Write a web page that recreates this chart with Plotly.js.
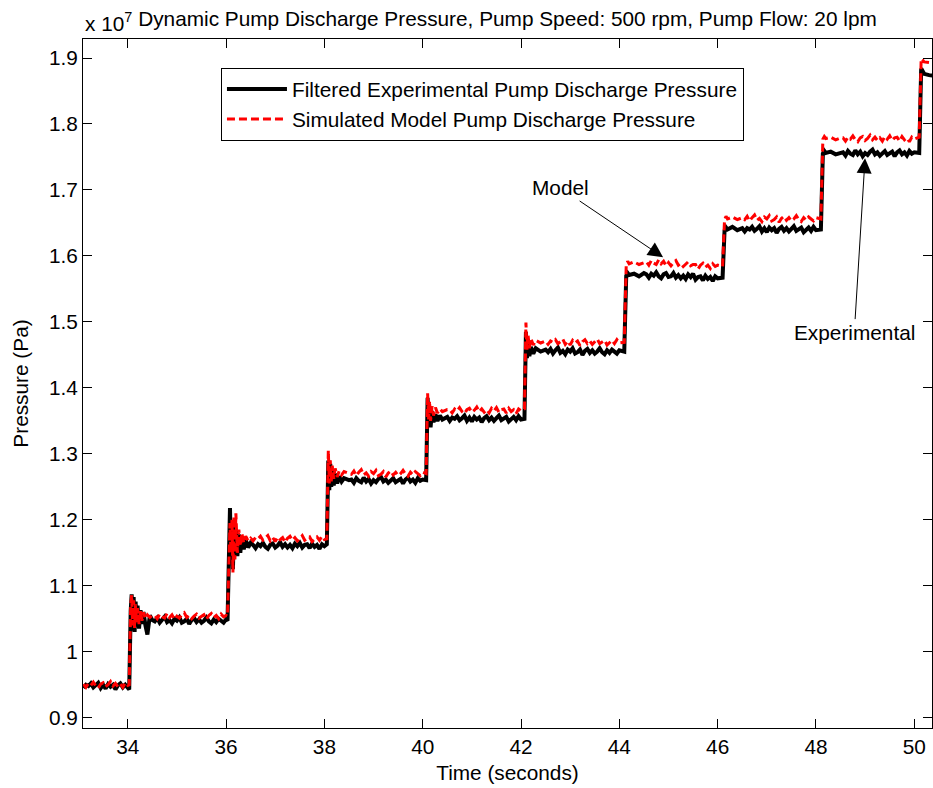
<!DOCTYPE html>
<html>
<head>
<meta charset="utf-8">
<script src="https://cdn.plot.ly/plotly-3.0.1.min.js"></script>
<style>html,body{margin:0;padding:0;background:#fff;}#chart{width:933px;height:788px;}</style>
</head>
<body>
<div id="chart"></div>
<script>
// Time in seconds
const timeSec = [
  33.10, 33.15, 33.20, 33.25, 33.30, 33.35, 33.40, 33.45, 33.50, 33.55,
  33.60, 33.65, 33.70, 33.75, 33.80, 33.85, 33.90, 33.95, 34.00, 34.03,
  34.06, 34.08, 34.10, 34.12, 34.14, 34.16, 34.18, 34.20, 34.23, 34.26, 34.29, 34.32, 34.36, 34.40, 34.45, 34.50,
  34.55, 34.60, 34.65, 34.70, 34.75, 34.80, 34.85, 34.90, 34.95, 35.00,
  35.05, 35.10, 35.15, 35.20, 35.25, 35.30, 35.35, 35.40, 35.45, 35.50,
  35.55, 35.60, 35.65, 35.70, 35.75, 35.80, 35.85, 35.90, 35.95, 36.00, 36.03,
  36.06, 36.08, 36.10, 36.12, 36.14, 36.16, 36.18, 36.20, 36.23, 36.26, 36.29, 36.32, 36.36, 36.40, 36.45, 36.50,
  36.55, 36.60, 36.65, 36.70, 36.75, 36.80, 36.85, 36.90, 36.95, 37.00,
  37.05, 37.10, 37.15, 37.20, 37.25, 37.30, 37.35, 37.40, 37.45, 37.50,
  37.55, 37.60, 37.65, 37.70, 37.75, 37.80, 37.85, 37.90, 37.95, 38.00, 38.05,
  38.08, 38.10, 38.12, 38.14, 38.16, 38.19, 38.22, 38.26, 38.30, 38.35, 38.40, 38.50,
  38.55, 38.60, 38.65, 38.70, 38.75, 38.80, 38.85, 38.90, 38.95, 39.00,
  39.05, 39.10, 39.15, 39.20, 39.25, 39.30, 39.35, 39.40, 39.45, 39.50,
  39.55, 39.60, 39.65, 39.70, 39.75, 39.80, 39.85, 39.90, 39.95, 40.00, 40.07,
  40.10, 40.12, 40.14, 40.16, 40.19, 40.22, 40.26, 40.30, 40.35, 40.40, 40.50,
  40.55, 40.60, 40.65, 40.70, 40.75, 40.80, 40.85, 40.90, 40.95, 41.00,
  41.05, 41.10, 41.15, 41.20, 41.25, 41.30, 41.35, 41.40, 41.45, 41.50,
  41.55, 41.60, 41.65, 41.70, 41.75, 41.80, 41.85, 41.90, 41.95, 42.00, 42.07,
  42.10, 42.12, 42.14, 42.17, 42.20, 42.25, 42.30, 42.40, 42.50,
  42.55, 42.60, 42.65, 42.70, 42.75, 42.80, 42.85, 42.90, 42.95, 43.00,
  43.05, 43.10, 43.15, 43.20, 43.25, 43.30, 43.35, 43.40, 43.45, 43.50,
  43.55, 43.60, 43.65, 43.70, 43.75, 43.80, 43.85, 43.90, 43.95, 44.00, 44.10,
  44.14, 44.17, 44.20, 44.30, 44.40, 44.50,
  44.55, 44.60, 44.65, 44.70, 44.75, 44.80, 44.85, 44.90, 44.95, 45.00,
  45.05, 45.10, 45.15, 45.20, 45.25, 45.30, 45.35, 45.40, 45.45, 45.50,
  45.55, 45.60, 45.65, 45.70, 45.75, 45.80, 45.85, 45.90, 45.95, 46.00, 46.10,
  46.14, 46.17, 46.20, 46.30, 46.40, 46.50,
  46.55, 46.60, 46.65, 46.70, 46.75, 46.80, 46.85, 46.90, 46.95, 47.00,
  47.05, 47.10, 47.15, 47.20, 47.25, 47.30, 47.35, 47.40, 47.45, 47.50,
  47.55, 47.60, 47.65, 47.70, 47.75, 47.80, 47.85, 47.90, 47.95, 48.00, 48.10,
  48.14, 48.17, 48.20, 48.30, 48.40, 48.50,
  48.55, 48.60, 48.65, 48.70, 48.75, 48.80, 48.85, 48.90, 48.95, 49.00,
  49.05, 49.10, 49.15, 49.20, 49.25, 49.30, 49.35, 49.40, 49.45, 49.50,
  49.55, 49.60, 49.65, 49.70, 49.75, 49.80, 49.85, 49.90, 49.95, 50.00, 50.10,
  50.14, 50.17, 50.20, 50.30, 50.40
];

// Filtered experimental pump discharge pressure (x 10^7 Pa)
const expPressure = [
  0.945, 0.950, 0.948, 0.952, 0.946, 0.949, 0.953, 0.945, 0.950, 0.944,
  0.951, 0.947, 0.950, 0.943, 0.949, 0.952, 0.946, 0.950, 0.945, 0.943,
  1.062, 1.087, 1.032, 1.083, 1.030, 1.076, 1.038, 1.070, 1.035, 1.063, 1.042, 1.060, 1.040, 1.026, 1.055, 1.048,
  1.046, 1.051, 1.044, 1.049, 1.053, 1.045, 1.048, 1.043, 1.050, 1.047,
  1.052, 1.044, 1.046, 1.050, 1.042, 1.048, 1.051, 1.045, 1.049, 1.044,
  1.047, 1.052, 1.046, 1.043, 1.049, 1.045, 1.050, 1.047, 1.044, 1.049, 1.047,
  1.150, 1.218, 1.140, 1.195, 1.125, 1.190, 1.150, 1.185, 1.145, 1.178, 1.150, 1.175, 1.155, 1.170, 1.158, 1.165,
  1.162, 1.157, 1.163, 1.160, 1.165, 1.159, 1.156, 1.162, 1.164, 1.158,
  1.161, 1.166, 1.159, 1.163, 1.158, 1.162, 1.157, 1.164, 1.160, 1.165,
  1.158, 1.162, 1.163, 1.157, 1.164, 1.159, 1.162, 1.156, 1.163, 1.160, 1.163,
  1.290, 1.245, 1.285, 1.250, 1.275, 1.252, 1.270, 1.255, 1.266, 1.258, 1.263, 1.260,
  1.261, 1.256, 1.263, 1.259, 1.257, 1.264, 1.258, 1.262, 1.255, 1.260,
  1.257, 1.262, 1.265, 1.258, 1.261, 1.256, 1.260, 1.263, 1.257, 1.259,
  1.262, 1.255, 1.261, 1.264, 1.258, 1.261, 1.256, 1.263, 1.259, 1.261, 1.260,
  1.385, 1.345, 1.372, 1.340, 1.365, 1.348, 1.360, 1.350, 1.358, 1.352, 1.356,
  1.350, 1.355, 1.353, 1.357, 1.351, 1.354, 1.358, 1.350, 1.355, 1.349,
  1.356, 1.352, 1.355, 1.348, 1.354, 1.357, 1.351, 1.355, 1.350, 1.354,
  1.358, 1.351, 1.354, 1.356, 1.349, 1.353, 1.356, 1.351, 1.357, 1.352, 1.353,
  1.485, 1.445, 1.470, 1.448, 1.462, 1.452, 1.460, 1.455, 1.458,
  1.454, 1.459, 1.452, 1.457, 1.461, 1.453, 1.456, 1.451, 1.458, 1.455,
  1.460, 1.452, 1.454, 1.458, 1.450, 1.456, 1.459, 1.453, 1.457, 1.452,
  1.455, 1.460, 1.454, 1.451, 1.457, 1.453, 1.458, 1.455, 1.452, 1.457, 1.455,
  1.570, 1.574, 1.571, 1.573, 1.569, 1.574,
  1.572, 1.567, 1.573, 1.570, 1.575, 1.569, 1.566, 1.572, 1.574, 1.568,
  1.569, 1.574, 1.567, 1.571, 1.566, 1.570, 1.565, 1.572, 1.568, 1.573,
  1.564, 1.568, 1.569, 1.563, 1.570, 1.565, 1.568, 1.562, 1.569, 1.566, 1.567,
  1.638, 1.643, 1.640, 1.644, 1.639, 1.642,
  1.637, 1.642, 1.640, 1.644, 1.638, 1.641, 1.645, 1.637, 1.642, 1.636,
  1.643, 1.639, 1.642, 1.635, 1.641, 1.644, 1.638, 1.642, 1.637, 1.641,
  1.645, 1.638, 1.641, 1.643, 1.636, 1.640, 1.643, 1.638, 1.644, 1.639, 1.640,
  1.755, 1.759, 1.756, 1.758, 1.754, 1.757,
  1.757, 1.752, 1.759, 1.755, 1.753, 1.760, 1.754, 1.758, 1.751, 1.756,
  1.753, 1.758, 1.761, 1.754, 1.757, 1.752, 1.756, 1.759, 1.753, 1.755,
  1.758, 1.751, 1.757, 1.760, 1.754, 1.757, 1.752, 1.759, 1.755, 1.757, 1.756,
  1.884, 1.880, 1.876, 1.874, 1.873
];

// Simulated model pump discharge pressure (x 10^7 Pa)
const modelPressure = [
  0.951, 0.946, 0.952, 0.949, 0.954, 0.948, 0.945, 0.951, 0.953, 0.947,
  0.950, 0.955, 0.948, 0.952, 0.947, 0.951, 0.946, 0.953, 0.949, 0.950,
  1.070, 1.086, 1.040, 1.078, 1.036, 1.072, 1.045, 1.066, 1.042, 1.062, 1.047, 1.060, 1.050, 1.056, 1.052, 1.055,
  1.055, 1.050, 1.057, 1.053, 1.051, 1.058, 1.052, 1.056, 1.049, 1.054,
  1.051, 1.056, 1.059, 1.052, 1.055, 1.050, 1.054, 1.057, 1.051, 1.053,
  1.056, 1.049, 1.055, 1.058, 1.052, 1.055, 1.050, 1.057, 1.053, 1.055, 1.054,
  1.140, 1.195, 1.150, 1.200, 1.120, 1.205, 1.140, 1.210, 1.150, 1.185, 1.160, 1.180, 1.165, 1.175, 1.168, 1.172,
  1.168, 1.173, 1.171, 1.175, 1.169, 1.172, 1.176, 1.168, 1.173, 1.167,
  1.174, 1.170, 1.173, 1.166, 1.172, 1.175, 1.169, 1.173, 1.168, 1.172,
  1.176, 1.169, 1.172, 1.174, 1.167, 1.171, 1.174, 1.169, 1.175, 1.170, 1.171,
  1.305, 1.255, 1.290, 1.258, 1.282, 1.262, 1.278, 1.265, 1.274, 1.268, 1.273, 1.270,
  1.269, 1.274, 1.267, 1.272, 1.276, 1.268, 1.271, 1.266, 1.273, 1.270,
  1.275, 1.267, 1.269, 1.273, 1.265, 1.271, 1.274, 1.268, 1.272, 1.267,
  1.270, 1.275, 1.269, 1.266, 1.272, 1.268, 1.273, 1.270, 1.267, 1.272, 1.270,
  1.392, 1.352, 1.380, 1.350, 1.372, 1.358, 1.370, 1.362, 1.368, 1.364, 1.367,
  1.367, 1.362, 1.368, 1.365, 1.370, 1.364, 1.361, 1.367, 1.369, 1.363,
  1.366, 1.371, 1.364, 1.368, 1.363, 1.367, 1.362, 1.369, 1.365, 1.370,
  1.363, 1.367, 1.368, 1.362, 1.369, 1.364, 1.367, 1.361, 1.368, 1.365, 1.368,
  1.499, 1.458, 1.482, 1.460, 1.475, 1.465, 1.472, 1.468, 1.471,
  1.466, 1.471, 1.469, 1.473, 1.467, 1.470, 1.474, 1.466, 1.471, 1.465,
  1.472, 1.468, 1.471, 1.464, 1.470, 1.473, 1.467, 1.471, 1.466, 1.470,
  1.474, 1.467, 1.470, 1.472, 1.465, 1.469, 1.472, 1.467, 1.473, 1.468, 1.469,
  1.586, 1.592, 1.588, 1.591, 1.587, 1.590,
  1.591, 1.586, 1.593, 1.589, 1.587, 1.594, 1.588, 1.592, 1.585, 1.590,
  1.585, 1.590, 1.593, 1.586, 1.589, 1.584, 1.588, 1.591, 1.585, 1.587,
  1.587, 1.580, 1.586, 1.589, 1.583, 1.586, 1.581, 1.588, 1.584, 1.586, 1.584,
  1.655, 1.660, 1.656, 1.659, 1.655, 1.658,
  1.655, 1.660, 1.653, 1.658, 1.662, 1.654, 1.657, 1.652, 1.659, 1.656,
  1.661, 1.653, 1.655, 1.659, 1.651, 1.657, 1.660, 1.654, 1.658, 1.653,
  1.656, 1.661, 1.655, 1.652, 1.658, 1.654, 1.659, 1.656, 1.653, 1.658, 1.656,
  1.777, 1.781, 1.778, 1.780, 1.776, 1.779,
  1.779, 1.774, 1.780, 1.777, 1.782, 1.776, 1.773, 1.779, 1.781, 1.775,
  1.778, 1.783, 1.776, 1.780, 1.775, 1.779, 1.774, 1.781, 1.777, 1.782,
  1.775, 1.779, 1.780, 1.774, 1.781, 1.776, 1.779, 1.773, 1.780, 1.777, 1.780,
  1.899, 1.897, 1.894, 1.893, 1.892
];

const seriesNames = ['Filtered Experimental Pump Discharge Pressure', 'Simulated Model Pump Discharge Pressure'];
const xTicks = [34, 36, 38, 40, 42, 44, 46, 48, 50];
const yTicks = [0.9, 1.0, 1.1, 1.2, 1.3, 1.4, 1.5, 1.6, 1.7, 1.8, 1.9];
const yTickText = ['0.9', '1', '1.1', '1.2', '1.3', '1.4', '1.5', '1.6', '1.7', '1.8', '1.9'];
const annoModel = {label: 'Model', textX: 42.80, textY: 1.703, tipX: 44.89, tipY: 1.598};
const annoExp = {label: 'Experimental', textX: 48.78, textY: 1.4845, tipX: 48.998, tipY: 1.748};

const FONT = 'Liberation Sans, Arial, sans-serif';
const FS = 20.8;

const traces = [
  {x: timeSec, y: expPressure, name: seriesNames[0], type: 'scatter', mode: 'lines',
   line: {color: '#000000', width: 4}},
  {x: timeSec, y: modelPressure, name: seriesNames[1], type: 'scatter', mode: 'lines',
   line: {color: '#ff0000', width: 3, dash: '8px,4px'}}
];

const axisCommon = {
  showline: true, linecolor: '#000', linewidth: 1, mirror: 'ticks',
  ticks: 'inside', ticklen: 9, tickwidth: 1, tickcolor: '#000',
  showgrid: false, zeroline: false,
  tickfont: {family: FONT, size: FS, color: '#000'}
};

const layout = {
  width: 933, height: 788,
  margin: {l: 83, r: 1, t: 39, b: 60},
  paper_bgcolor: '#fff', plot_bgcolor: '#fff',
  font: {family: FONT, size: FS, color: '#000'},
  title: {text: 'Dynamic Pump Discharge Pressure, Pump Speed: 500 rpm, Pump Flow: 20 lpm',
          font: {family: FONT, size: FS, color: '#000'},
          xref: 'paper', x: 0.5, xanchor: 'center', yref: 'container', y: 1 - 19/788, yanchor: 'middle'},
  xaxis: Object.assign({}, axisCommon, {
    range: [33.09, 50.36], tickvals: xTicks, ticktext: xTicks.map(String),
    title: {text: 'Time (seconds)', font: {family: FONT, size: FS, color: '#000'}, standoff: 8}
  }),
  yaxis: Object.assign({}, axisCommon, {
    range: [0.8844, 1.9288], tickvals: yTicks, ticktext: yTickText,
    title: {text: 'Pressure (Pa)', font: {family: FONT, size: FS, color: '#000'}, standoff: 14}
  }),
  showlegend: true,
  legend: {x: 0.1625, y: 0.958, xanchor: 'left', yanchor: 'top',
           bgcolor: '#fff', bordercolor: '#000', borderwidth: 1,
           font: {family: FONT, size: FS, color: '#000'}, itemwidth: 60, tracegroupgap: 0},
  annotations: [
    {xref: 'paper', yref: 'paper', x: 0, y: 1, xanchor: 'left', yanchor: 'bottom', yshift: 2,
     text: 'x 10<sup>7</sup>', showarrow: false, font: {family: FONT, size: FS, color: '#000'}},
    {x: annoModel.tipX, y: annoModel.tipY, ax: annoModel.textX, ay: annoModel.textY, axref: 'x', ayref: 'y',
     text: annoModel.label, showarrow: true, arrowhead: 2, arrowsize: 3, arrowwidth: 1, arrowcolor: '#000',
     font: {family: FONT, size: FS, color: '#000'}},
    {x: annoExp.tipX, y: annoExp.tipY, ax: annoExp.textX, ay: annoExp.textY, axref: 'x', ayref: 'y',
     text: annoExp.label, showarrow: true, arrowhead: 2, arrowsize: 3, arrowwidth: 1, arrowcolor: '#000',
     font: {family: FONT, size: FS, color: '#000'}}
  ]
};

Plotly.newPlot('chart', traces, layout, {displayModeBar: false, staticPlot: true});
</script>
</body>
</html>
